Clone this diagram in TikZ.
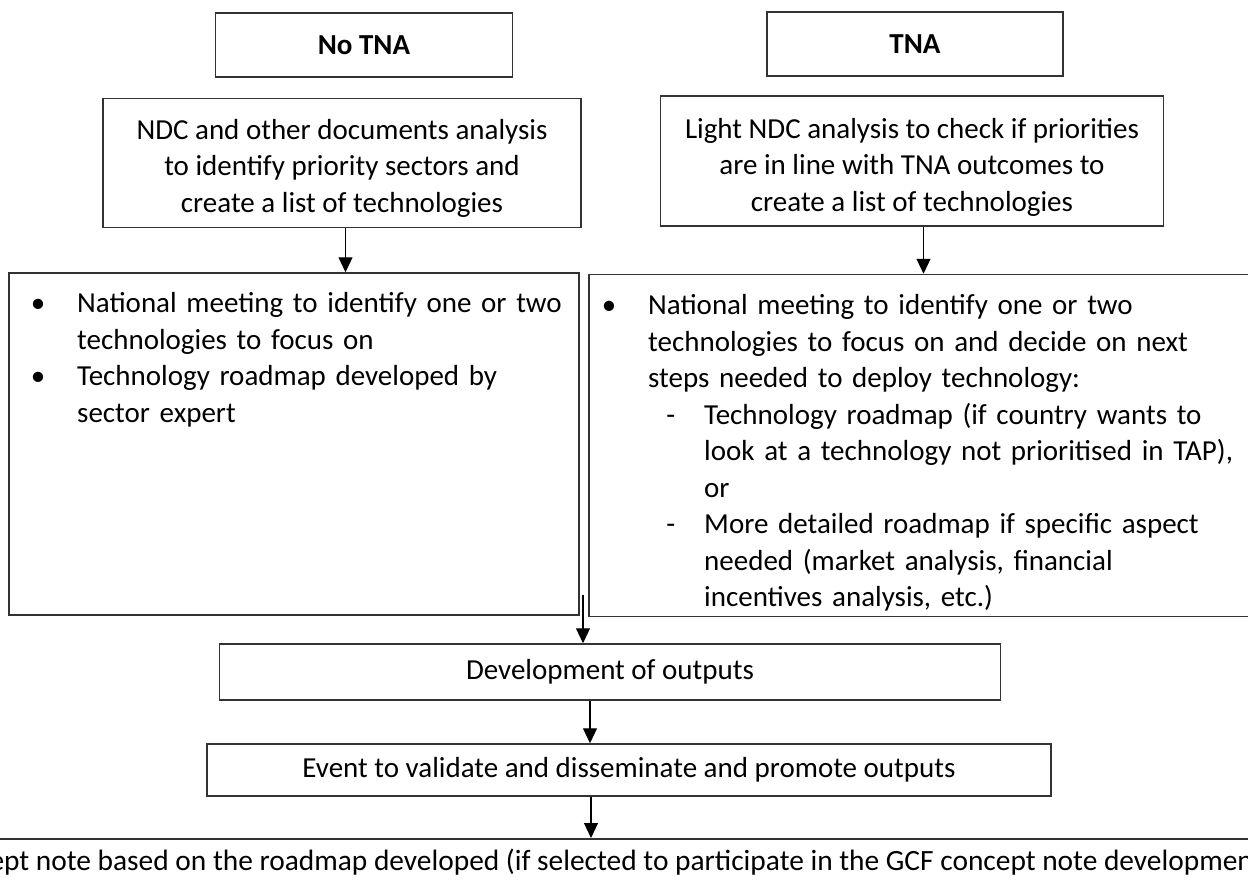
\documentclass[tikz,border=0pt]{standalone}
\usepackage{fontspec}
\setmainfont{Carlito}
\usepackage{enumitem}
\usetikzlibrary{arrows.meta}

\begin{document}
\begin{tikzpicture}[
    x=1pt, y=-1pt,
    font=\fontsize{29pt}{36.5pt}\selectfont,
    box/.style={draw=black!80, line width=1.5pt, inner sep=0pt, align=center},
    flow/.style={-{Triangle[length=15pt,width=14pt]}, line width=1.1pt},
    listtext/.style={anchor=north west, inner sep=0pt, text width=900pt, align=left}
  ]
  \useasboundingbox (0,0) rectangle (1248,892);
  \clip (0,0) rectangle (1248,892);

  % Two starting cases
  \node[box, minimum width=297pt, minimum height=64pt] (notna) at (364,45) {\bfseries No TNA};
  \node[box, minimum width=296pt, minimum height=64pt] (tna) at (915,44) {\bfseries TNA};
  \node[box, minimum width=478pt, minimum height=129pt] (ndc) at (342,163) {};
  \node[align=center, inner sep=0pt] (ndctext) at (342,168)
    {NDC and other documents analysis\\ to identify priority sectors and\\ create a list of technologies};
  \node[box, minimum width=503pt, minimum height=130pt] (light) at (912,161) {};
  \node[align=center, inner sep=0pt] (lighttext) at (912,167)
    {Light NDC analysis to check if priorities\\ are in line with TNA outcomes to\\ create a list of technologies};

  % National meetings
  \node[box, minimum width=570pt, minimum height=342pt] (nometa) at (294,444) {};
  \node[box, minimum width=691pt, minimum height=342pt] (tnameta) at (934.5,445.5) {};
  \node[listtext] (noitems) at (9,276) {%
    \begin{itemize}[before=\raggedright, leftmargin=68pt, labelwidth=20pt, labelsep=32pt, itemsep=0pt, topsep=0pt, partopsep=0pt, parsep=0pt, label=\textbullet]
      \item National meeting to identify one or two\newline technologies to focus on
      \item Technology roadmap developed by\newline sector expert
    \end{itemize}};
  \node[listtext] (tnaitems) at (589,278) {%
    \begin{itemize}[before=\raggedright, leftmargin=59pt, labelwidth=20pt, labelsep=32pt, itemsep=0pt, topsep=0pt, partopsep=0pt, parsep=0pt, label=\textbullet]
      \item National meeting to identify one or two\newline technologies to focus on and decide on next\newline steps needed to deploy technology:
      \begin{itemize}[before=\raggedright, leftmargin=56pt, labelwidth=20pt, labelsep=29pt, itemsep=0pt, topsep=0pt, partopsep=0pt, parsep=0pt, label=-]
        \item Technology roadmap (if country wants to\newline look at a technology not prioritised in TAP),\newline or
        \item More detailed roadmap if specific aspect\newline needed (market analysis, financial\newline incentives analysis, etc.)
      \end{itemize}
    \end{itemize}};

  % Common steps
  \node[box, minimum width=781pt, minimum height=56pt] (dev) at (610,672) {Development of outputs};
  \node[box, minimum width=844pt, minimum height=52pt] (event) at (629,770)
    {Event to validate and disseminate and promote outputs};
  \node[box, anchor=north, minimum width=1900pt, text height=32pt, text depth=40pt,
        font=\fontsize{29.4pt}{36.5pt}\selectfont] (concept) at (601,838)
    {Concept note based on the roadmap developed (if selected to participate in the GCF concept note development)};

  % Arrows
  \coordinate (merge) at (583,595);
  \draw[flow] ([xshift=3.5pt]ndc.south) -- ([xshift=3.5pt]ndc.south |- nometa.north);
  \draw[flow] ([xshift=11.5pt]light.south) -- ([xshift=11.5pt]light.south |- tnameta.north);
  \draw[flow] (merge) -- (merge |- dev.north);
  \draw[flow] ([xshift=-20pt]dev.south) -- ([xshift=-20pt]dev.south |- event.north);
  \draw[flow] ([xshift=-38pt]event.south) -- ([xshift=-38pt]event.south |- concept.north);
\end{tikzpicture}
\end{document}
